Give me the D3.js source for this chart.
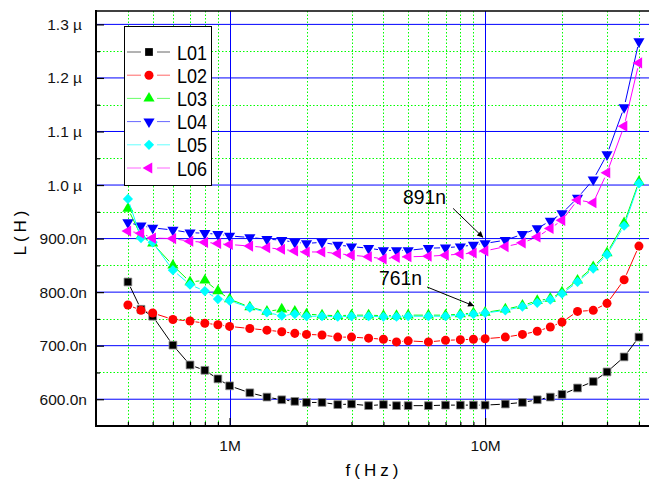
<!DOCTYPE html>
<html>
<head>
<meta charset="utf-8">
<script src="https://cdn.jsdelivr.net/npm/d3@7"></script>
<style>
  body { margin: 0; background: #fff; }
  text { font-family: Arial, "Liberation Sans", sans-serif; }
</style>
</head>
<body>
<div id="chart"></div>
<script>
// frequencies in MHz, inductance in nH
const freqs = [0.4, 0.45, 0.5, 0.6, 0.7, 0.8, 0.9, 1, 1.2, 1.4, 1.6, 1.8, 2, 2.3, 2.65, 3, 3.5, 4, 4.5, 5,
  6, 7, 8, 9, 10, 12, 14, 16, 18, 20, 23, 26.5, 30, 35, 40]

const L01 = [819, 768, 755, 701, 664, 654, 638, 625, 612, 604, 599, 596, 594, 594, 590, 591, 588, 590, 588, 588,
  588, 589, 589, 589, 589, 591, 594, 599, 604, 609, 621, 633, 651, 679, 716]
const L02 = [776, 766, 761, 749, 746, 742, 739, 736, 732, 729, 726, 723, 721, 720, 716, 716, 714, 712, 707, 709,
  707, 710, 711, 712, 713, 716, 721, 727, 735, 744, 764, 766, 779, 823, 886]
const L03 = [956, 905, 891, 850, 819, 822, 802, 787, 772, 764, 768, 764, 759, 757, 756, 757, 757, 756, 756, 757,
  757, 757, 759, 761, 762, 768, 775, 784, 788, 800, 822, 847, 873, 929, 1006]
const L04 = [930, 924, 920, 916, 911, 910, 908, 905, 902, 899, 897, 893, 891, 893, 888, 885, 882, 878, 878, 878,
  882, 883, 885, 888, 891, 897, 908, 919, 933, 947, 976, 1010, 1057, 1145, 1268]
const L05 = [974, 901, 893, 841, 814, 802, 787, 784, 771, 762, 756, 759, 755, 755, 754, 755, 755, 754, 754, 755,
  755, 755, 757, 759, 761, 766, 773, 780, 786, 797, 819, 844, 870, 924, 1003]
const L06 = [914, 910, 901, 900, 895, 893, 891, 889, 886, 883, 880, 877, 875, 875, 872, 869, 866, 862, 865, 866,
  867, 869, 871, 873, 877, 885, 892, 903, 919, 934, 972, 967, 1023, 1110, 1228]

const seriesNames = ['L01', 'L02', 'L03', 'L04', 'L05', 'L06']
const seriesValues = [L01, L02, L03, L04, L05, L06]

const xMajorTicks = [1, 10]
const xMajorLabels = ['1M', '10M']
const xMinorTicks = [0.4, 0.5, 0.6, 0.7, 0.8, 0.9, 2, 3, 4, 5, 6, 7, 8, 9, 20, 30, 40]
const yMajorTicks = [600, 700, 800, 900, 1000, 1100, 1200, 1300]
const yMinorTicks = [650, 750, 850, 950, 1050, 1150, 1250]

// annotations: text and the point they point to
const notes = [
  { text: '891n', f: 10, v: 891 },
  { text: '761n', f: 10, v: 761 }
]

// canvas
const width = 649,
  height = 481,
  plotLeft = 96,
  plotRight = 652,
  plotTop = 11,
  plotBottom = 426

const colors = ['#000000', '#ff0000', '#00ff00', '#0000ff', '#00ffff', '#ff00ff']
const shapes = [
  { type: d3.symbolSquare, size: 60, rot: 0 },
  { type: d3.symbolCircle, size: 64, rot: 0 },
  { type: d3.symbolTriangle, size: 54, rot: 0 },
  { type: d3.symbolTriangle, size: 54, rot: 180 },
  { type: d3.symbolSquare, size: 52, rot: 45 },
  { type: d3.symbolTriangle, size: 54, rot: -90 }
]

let svg = d3.select('#chart')
  .append('svg')
  .attr('width', width)
  .attr('height', height)

let x = d3.scaleLog().domain([0.3, 45]).range([plotLeft, plotRight])
let y = d3.scaleLinear().domain([550, 1325]).range([plotBottom, plotTop])

// grid
let grid = svg.append('g')
grid.selectAll('.gx')
  .data(xMinorTicks)
  .enter().append('line')
  .attr('x1', d => Math.round(x(d)) + 0.5).attr('x2', d => Math.round(x(d)) + 0.5)
  .attr('y1', plotTop).attr('y2', plotBottom)
  .attr('stroke', '#00ff00').attr('stroke-dasharray', '1.5,2')
grid.selectAll('.gy')
  .data(yMinorTicks)
  .enter().append('line')
  .attr('x1', plotLeft).attr('x2', plotRight)
  .attr('y1', d => Math.round(y(d)) + 0.5).attr('y2', d => Math.round(y(d)) + 0.5)
  .attr('stroke', '#00ff00').attr('stroke-dasharray', '1.5,2')
grid.selectAll('.mx')
  .data(xMajorTicks)
  .enter().append('line')
  .attr('x1', d => Math.round(x(d)) + 0.5).attr('x2', d => Math.round(x(d)) + 0.5)
  .attr('y1', plotTop).attr('y2', plotBottom)
  .attr('stroke', '#0000ff')
grid.selectAll('.my')
  .data(yMajorTicks)
  .enter().append('line')
  .attr('x1', plotLeft).attr('x2', plotRight)
  .attr('y1', d => y(d)).attr('y2', d => y(d))
  .attr('stroke', '#0000ff')

// axes
let fmtY = v => v >= 1000 ? d3.format('.1f')(v / 1000) + ' µ' : d3.format('.1f')(v) + 'n'

let yAxis = svg.append('g')
  .attr('transform', `translate(${plotLeft},0)`)
  .call(d3.axisLeft(y).tickValues(yMajorTicks).tickFormat(fmtY).tickSizeInner(-8).tickSizeOuter(0).tickPadding(9))
yAxis.append('g')
  .call(d3.axisLeft(y).tickValues(yMinorTicks).tickFormat('').tickSizeInner(-4).tickSizeOuter(0))
yAxis.selectAll('.domain').remove()
yAxis.selectAll('text')
  .attr('font-size', '15.5px')
  .attr('fill', '#111')
  .attr('dx', d => d >= 1000 ? -5 : 0)
yAxis.selectAll('line').attr('stroke', '#000').attr('stroke-width', 1.2)

let xAxis = svg.append('g')
  .attr('transform', `translate(0,${plotBottom})`)
  .call(d3.axisBottom(x).tickValues(xMajorTicks).tickFormat((d, i) => xMajorLabels[i]).tickSizeInner(-8).tickSizeOuter(0).tickPadding(14))
xAxis.append('g')
  .call(d3.axisBottom(x).tickValues(xMinorTicks).tickFormat('').tickSizeInner(-4).tickSizeOuter(0))
xAxis.selectAll('.domain').remove()
xAxis.selectAll('text').attr('font-size', '15.5px').attr('fill', '#111')
xAxis.selectAll('line').attr('stroke', '#000').attr('stroke-width', 1.2)

// frame
svg.append('line').attr('x1', plotLeft).attr('x2', plotLeft).attr('y1', plotTop - 1).attr('y2', plotBottom + 1)
  .attr('stroke', '#000').attr('stroke-width', 2)
svg.append('line').attr('x1', plotLeft - 1).attr('x2', plotRight).attr('y1', plotBottom).attr('y2', plotBottom)
  .attr('stroke', '#000').attr('stroke-width', 2)
svg.append('line').attr('x1', plotLeft - 1).attr('x2', plotRight).attr('y1', plotTop).attr('y2', plotTop)
  .attr('stroke', '#000').attr('stroke-width', 1.6)

// series: line segments broken around the markers, then markers
let gap = 5.5
let symbolPath = (s) => d3.symbol().type(s.type).size(s.size)()

seriesValues.forEach((vals, si) => {
  let pts = vals.map((v, i) => [x(freqs[i]), y(v)])
  let segs = []
  for (let i = 1; i < pts.length; i++) {
    let [x1, y1] = pts[i - 1], [x2, y2] = pts[i]
    let d = Math.hypot(x2 - x1, y2 - y1)
    if (d <= gap * 2) continue
    let ux = (x2 - x1) / d, uy = (y2 - y1) / d
    segs.push([x1 + ux * gap, y1 + uy * gap, x2 - ux * gap, y2 - uy * gap])
  }
  let g = svg.append('g')
  g.selectAll('line')
    .data(segs)
    .enter().append('line')
    .attr('x1', d => d[0]).attr('y1', d => d[1])
    .attr('x2', d => d[2]).attr('y2', d => d[3])
    .attr('stroke', colors[si]).attr('stroke-width', 1)
  g.selectAll('path')
    .data(vals)
    .enter().append('path')
    .attr('d', symbolPath(shapes[si]))
    .attr('transform', (d, i) => `translate(${x(freqs[i])},${y(d)}) rotate(${shapes[si].rot})`)
    .attr('fill', colors[si])
    .attr('stroke', si === 0 ? '#888' : 'none')
    .attr('stroke-width', 0.8)
})

// legend
let legend = svg.append('g')
legend.append('rect')
  .attr('x', 124.5).attr('y', 26.5).attr('width', 87).attr('height', 159)
  .attr('fill', '#fff').attr('stroke', '#000')
seriesNames.forEach((name, i) => {
  let cy = 52 + i * 23.2
  legend.append('line').attr('x1', 127).attr('x2', 141).attr('y1', cy).attr('y2', cy)
    .attr('stroke', colors[i]).attr('stroke-opacity', 0.6)
  legend.append('line').attr('x1', 157).attr('x2', 170).attr('y1', cy).attr('y2', cy)
    .attr('stroke', colors[i]).attr('stroke-opacity', 0.6)
  legend.append('path')
    .attr('d', symbolPath(shapes[i]))
    .attr('transform', `translate(149,${cy}) rotate(${shapes[i].rot})`)
    .attr('fill', colors[i])
  legend.append('text')
    .attr('x', 177).attr('y', cy + 7.5)
    .attr('font-size', '21px')
    .attr('textLength', 30).attr('lengthAdjust', 'spacingAndGlyphs')
    .text(name)
})

// annotations
svg.append('defs').append('marker')
  .attr('id', 'arrow')
  .attr('viewBox', '0 0 10 10')
  .attr('refX', 10).attr('refY', 5)
  .attr('markerWidth', 9).attr('markerHeight', 6)
  .attr('markerUnits', 'userSpaceOnUse')
  .attr('orient', 'auto')
  .append('path').attr('d', 'M0,0L10,5L0,10Z').attr('fill', '#000')

let offsets = [
  { tx: -82, ty: -39, x1: -32, y1: -35, x2: -2, y2: -6 },
  { tx: -106, ty: -28, x1: -58, y1: -26, x2: -11, y2: -7 }
]
notes.forEach((n, i) => {
  let px = x(n.f), py = y(n.v), o = offsets[i]
  svg.append('line')
    .attr('x1', px + o.x1).attr('y1', py + o.y1)
    .attr('x2', px + o.x2).attr('y2', py + o.y2)
    .attr('stroke', '#000').attr('stroke-width', 1)
    .attr('marker-end', 'url(#arrow)')
  svg.append('text')
    .attr('x', px + o.tx).attr('y', py + o.ty)
    .attr('font-size', '21px')
    .attr('textLength', 43).attr('lengthAdjust', 'spacingAndGlyphs')
    .text(n.text)
})

// axis titles
svg.append('text')
  .attr('transform', 'translate(26,231) rotate(-90)')
  .attr('text-anchor', 'middle')
  .attr('font-size', '17px')
  .attr('letter-spacing', '4px')
  .text('L(H)')
svg.append('text')
  .attr('x', 374).attr('y', 476)
  .attr('text-anchor', 'middle')
  .attr('font-size', '17px')
  .attr('letter-spacing', '4px')
  .text('f(Hz)')
</script>
</body>
</html>
